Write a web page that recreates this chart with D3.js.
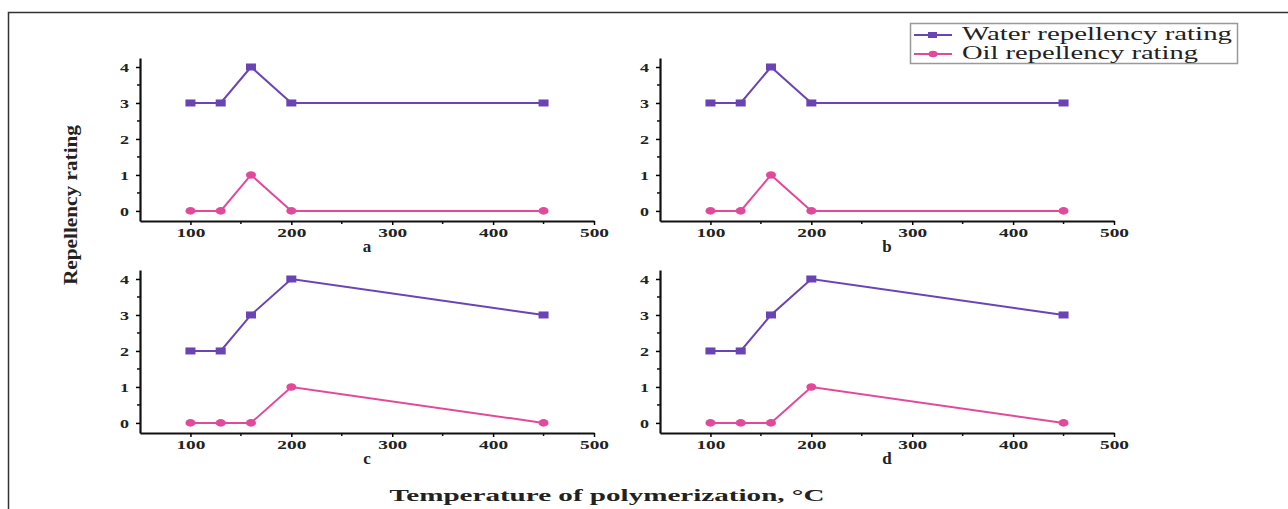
<!DOCTYPE html>
<html>
<head>
<meta charset="utf-8">
<script src="https://cdn.jsdelivr.net/npm/d3@7"></script>
<style>
  body { margin: 0; background: #fff; }
  svg { display: block; }
</style>
</head>
<body>
<script>
// temperatures (°C) shared by all panels
const temps = [100, 130, 160, 200, 450];

// repellency ratings per panel
const waterAB = [3, 3, 4, 3, 3];
const oilAB = [0, 0, 1, 0, 0];
const waterCD = [2, 2, 3, 4, 3];
const oilCD = [0, 0, 0, 1, 0];

const xTicks = [100, 200, 300, 400, 500];
const yTicks = [0, 1, 2, 3, 4];

const seriesNames = ["Water repellency rating", "Oil repellency rating"];
const colors = ["#6a44b4", "#e14a9c"];

const width = 1288, height = 509;
const serif = "'Liberation Serif', 'Times New Roman', serif";

const svg = d3.select("body").append("svg")
  .attr("width", width)
  .attr("height", height);

// frame (top and left edges visible)
svg.append("path")
  .attr("d", `M8.5,${height} V12.5 H${width}`)
  .attr("fill", "none")
  .attr("stroke", "#333")
  .attr("stroke-width", 1.5);

const panels = [
  { name: "a", left: 140, top: 58, bottom: 221, water: waterAB, oil: oilAB },
  { name: "b", left: 660, top: 58, bottom: 221, water: waterAB, oil: oilAB },
  { name: "c", left: 140, top: 270, bottom: 433, water: waterCD, oil: oilCD },
  { name: "d", left: 660, top: 270, bottom: 433, water: waterCD, oil: oilCD },
];

panels.forEach((p) => {
  const x = d3.scaleLinear().domain([50, 500]).range([p.left, p.left + 454]);
  const y = d3.scaleLinear().domain([-0.28, 4.25]).range([p.bottom, p.top]);

  const g = svg.append("g");

  // x axis
  const gx = g.append("g")
    .attr("transform", `translate(0,${p.bottom})`)
    .call(d3.axisBottom(x).tickValues(xTicks).tickSize(4).tickSizeOuter(0).tickPadding(3));
  gx.select(".domain").attr("stroke-width", 2.2).attr("stroke", "#111");
  gx.selectAll(".tick line").attr("stroke-width", 1.5);
  gx.selectAll(".tick text")
    .attr("font-family", serif).attr("font-weight", "bold")
    .attr("font-size", 13).attr("fill", "#222")
    .attr("textLength", 29).attr("lengthAdjust", "spacingAndGlyphs");
  // minor x ticks
  g.append("g").selectAll("line")
    .data([150, 250, 350, 450])
    .join("line")
    .attr("x1", (d) => x(d)).attr("x2", (d) => x(d))
    .attr("y1", p.bottom).attr("y2", p.bottom + 3)
    .attr("stroke", "#111").attr("stroke-width", 1.5);

  // y axis
  const gy = g.append("g")
    .attr("transform", `translate(${p.left},0)`)
    .call(d3.axisLeft(y).tickValues(yTicks).tickFormat(d3.format("d"))
      .tickSize(4).tickSizeOuter(0).tickPadding(7));
  gy.select(".domain").attr("stroke-width", 2.2).attr("stroke", "#111");
  gy.selectAll(".tick line").attr("stroke-width", 1.5);
  gy.selectAll(".tick text")
    .attr("font-family", serif).attr("font-weight", "bold")
    .attr("font-size", 13).attr("fill", "#222")
    .attr("textLength", 9).attr("lengthAdjust", "spacingAndGlyphs");
  g.append("g").selectAll("line")
    .data([0.5, 1.5, 2.5, 3.5])
    .join("line")
    .attr("x1", p.left).attr("x2", p.left - 3)
    .attr("y1", (d) => y(d)).attr("y2", (d) => y(d))
    .attr("stroke", "#111").attr("stroke-width", 1.5);

  // panel label
  g.append("text")
    .attr("x", x(275)).attr("y", p.bottom + 31)
    .attr("text-anchor", "middle")
    .attr("font-family", serif).attr("font-weight", "bold")
    .attr("font-size", 17).attr("fill", "#222")
    .text(p.name);

  const line = d3.line().x((d) => x(d[0])).y((d) => y(d[1]));

  [p.water, p.oil].forEach((vals, i) => {
    const pts = temps.map((t, k) => [t, vals[k]]);
    g.append("path")
      .datum(pts)
      .attr("d", line)
      .attr("fill", "none")
      .attr("stroke", colors[i])
      .attr("stroke-width", 2);
    if (i === 0) {
      g.append("g").selectAll("rect")
        .data(pts).join("rect")
        .attr("x", (d) => x(d[0]) - 5).attr("y", (d) => y(d[1]) - 3.5)
        .attr("width", 10).attr("height", 7)
        .attr("fill", colors[i]);
    } else {
      g.append("g").selectAll("ellipse")
        .data(pts).join("ellipse")
        .attr("cx", (d) => x(d[0])).attr("cy", (d) => y(d[1]))
        .attr("rx", 5).attr("ry", 3.8)
        .attr("fill", colors[i]);
    }
  });
});

// y title
svg.append("text")
  .attr("transform", "translate(77,205) rotate(-90)")
  .attr("text-anchor", "middle")
  .attr("font-family", serif).attr("font-weight", "bold")
  .attr("font-size", 19).attr("fill", "#222")
  .attr("textLength", 160).attr("lengthAdjust", "spacingAndGlyphs")
  .text("Repellency rating");

// x title
svg.append("text")
  .attr("x", 607).attr("y", 501)
  .attr("text-anchor", "middle")
  .attr("font-family", serif).attr("font-weight", "bold")
  .attr("font-size", 17).attr("fill", "#222")
  .attr("textLength", 435).attr("lengthAdjust", "spacingAndGlyphs")
  .text("Temperature of polymerization, °C");

// legend
const legendLen = [270, 236];
const lg = svg.append("g");
lg.append("rect")
  .attr("x", 910.5).attr("y", 23.5)
  .attr("width", 327).attr("height", 40)
  .attr("fill", "#fff").attr("stroke", "#999").attr("stroke-width", 1.5);
seriesNames.forEach((name, i) => {
  const ly = 35 + i * 19;
  lg.append("line")
    .attr("x1", 914).attr("x2", 952).attr("y1", ly).attr("y2", ly)
    .attr("stroke", colors[i]).attr("stroke-width", 2);
  if (i === 0) {
    lg.append("rect").attr("x", 928).attr("y", ly - 3)
      .attr("width", 9).attr("height", 6).attr("fill", colors[i]);
  } else {
    lg.append("ellipse").attr("cx", 933).attr("cy", ly)
      .attr("rx", 4.5).attr("ry", 3.3).attr("fill", colors[i]);
  }
  lg.append("text")
    .attr("x", 962).attr("y", ly + 5)
    .attr("font-family", serif)
    .attr("font-size", 18).attr("fill", "#222")
    .attr("textLength", legendLen[i]).attr("lengthAdjust", "spacingAndGlyphs")
    .text(name);
});
</script>
</body>
</html>
